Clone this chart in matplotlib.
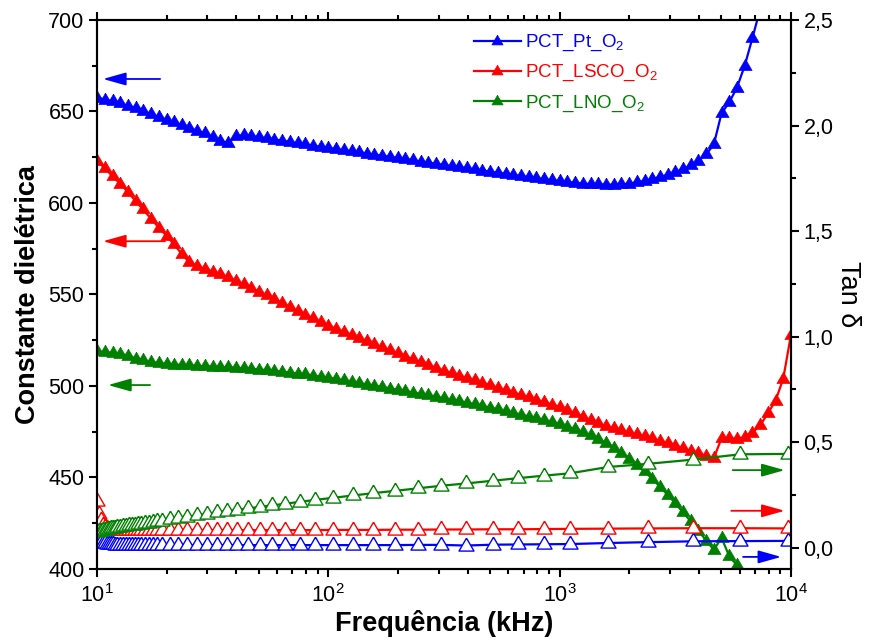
import matplotlib
matplotlib.use('Agg')
import matplotlib.pyplot as plt
from matplotlib.ticker import LogLocator, MultipleLocator, FuncFormatter, NullFormatter, LogFormatterSciNotation

plt.rcParams['font.family'] = ['Liberation Sans', 'DejaVu Sans']
plt.rcParams['mathtext.fontset'] = 'custom'
plt.rcParams['mathtext.rm'] = 'Liberation Sans'
plt.rcParams['mathtext.it'] = 'Liberation Sans:italic'
plt.rcParams['mathtext.bf'] = 'Liberation Sans:bold'

# ---------------- data ----------------
# frequency grid (kHz) of the dielectric-constant curves: mantissas x decades
mantissa = [1.00, 1.08, 1.17, 1.26, 1.36, 1.47, 1.58, 1.71, 1.85, 2.00,
            2.15, 2.33, 2.51, 2.71, 2.93, 3.16, 3.41, 3.69, 3.98, 4.30,
            4.64, 5.01, 5.41, 5.84, 6.31, 6.81, 7.36, 7.94, 8.58, 9.26]
decades = [10, 100, 1000]
freq = [m * d for d in decades for m in mantissa] + [10000]

eps_pt = [657.5, 656.5, 655.5, 654.5, 653, 652, 650.5, 648.5, 647, 645.5,
          644, 642.5, 641, 639.5, 638, 636, 634, 632.5, 636.5, 637,
          636.5, 636, 635.3, 634.6, 634, 633.3, 632.6, 632, 631.3, 630.6,
          630, 629.4, 628.8, 628.2, 627.6, 627, 626.4, 625.8, 625.2, 624.5,
          623.9, 623.3, 622.6, 622, 621.3, 620.7, 620.1, 619.5, 618.9, 618.3,
          617.7, 617.1, 616.5, 615.9, 615.3, 614.7, 614.1, 613.5, 613, 612.4,
          611.9, 611.4, 611, 610.6, 610.3, 610.1, 610, 610, 610.2, 610.6,
          611.2, 612, 613, 614.1, 615.4, 616.8, 618.5, 620.5, 623, 626.5,
          632, 649, 655, 663, 675, 690, 706, 725]

eps_lsco = [623, 619, 614.5, 610.5, 606, 601, 596.5, 591.5, 586.5, 582,
            577.5, 572, 567.5, 565.5, 564, 562.5, 561, 559.5, 557.5, 555.5,
            553.5, 551.5, 549.5, 547.5, 545.5, 543, 541, 539, 537, 535,
            533, 531.3, 529.6, 527.9, 526.2, 524.5, 522.8, 521.1, 519.4, 517.8,
            516.1, 514.5, 512.9, 511.3, 509.8, 508.4, 507, 505.6, 504.3, 503,
            501.6, 500.3, 499, 497.7, 496.3, 495, 493.7, 492.4, 491.1, 489.8,
            488.5, 486.8, 485, 483.2, 481.3, 479.5, 478, 476.8, 475.7, 474.6,
            473.5, 472.5, 471.3, 470, 468.7, 467.4, 466, 464.6, 463.2, 461.8,
            460.5, 471.5, 471.5, 471, 472, 474.5, 478.5, 485, 492, 504, 528]

eps_lno = [519, 518.5, 518, 517.5, 516.5, 515, 514, 513, 512.5, 512,
           511.7, 511.5, 511.3, 511, 510.8, 510.6, 510.4, 510.2, 510, 509.7,
           509.4, 509, 508.7, 508.3, 507.8, 507.3, 506.8, 506.3, 505.7, 505.1,
           504.5, 503.8, 503, 502.3, 501.5, 500.8, 500.1, 499.4, 498.6, 497.9,
           497.1, 496.4, 495.6, 494.8, 494, 493.2, 492.4, 491.6, 490.8, 489.9,
           489, 488.1, 487.2, 486.2, 485.3, 484.3, 483.3, 482.3, 481.3, 480.2,
           479, 477.7, 476.3, 474.8, 473, 471, 468.7, 466.2, 463.4, 460.3,
           456.9, 453.3, 449.3, 445, 440.5, 436, 431, 426, 421, 415.5,
           410.5, 417, 407, 402, 396, 390]

# frequencies (kHz) of the loss-tangent curves
freq_tan = [10.0, 10.2, 10.41, 10.62, 10.83, 11.05, 11.27, 11.5, 11.73, 11.96,
            12.2, 12.57, 12.95, 13.35, 13.75, 14.17, 14.6, 15.04, 15.5, 16.13,
            16.78, 17.46, 18.17, 19.1, 20.69, 22.4, 24.49, 27.06, 29.9, 33.03,
            36.48, 40.3, 44.97, 50.67, 57.09, 65.0, 75.46, 87.6, 104.8, 127.9,
            156.1, 194.3, 244.3, 307.1, 393.8, 515.3, 661.1, 856.1, 1109, 1619,
            2412, 3775, 6026, 9716]

tan_pt = [0.035, 0.030, 0.026, 0.023, 0.021, 0.019, 0.018, 0.017, 0.016, 0.015,
          0.015, 0.014, 0.014, 0.013, 0.013, 0.013, 0.013, 0.013, 0.013, 0.013,
          0.013, 0.013, 0.013, 0.013, 0.013, 0.013, 0.013, 0.013, 0.013, 0.013,
          0.013, 0.013, 0.013, 0.013, 0.013, 0.013, 0.013, 0.013, 0.013, 0.013,
          0.013, 0.013, 0.014, 0.014, 0.011, 0.015, 0.016, 0.017, 0.018, 0.023,
          0.027, 0.031, 0.032, 0.033]

tan_lsco = [0.22, 0.16, 0.13, 0.11, 0.100, 0.094, 0.090, 0.088, 0.086, 0.085,
            0.085, 0.084, 0.084, 0.084, 0.084, 0.084, 0.084, 0.084, 0.084, 0.084,
            0.084, 0.084, 0.084, 0.084, 0.084, 0.084, 0.084, 0.084, 0.084, 0.084,
            0.084, 0.084, 0.084, 0.084, 0.084, 0.084, 0.084, 0.084, 0.085, 0.085,
            0.085, 0.086, 0.086, 0.087, 0.087, 0.088, 0.088, 0.089, 0.090, 0.091,
            0.092, 0.093, 0.093, 0.092]

tan_lno = [0.075, 0.078, 0.081, 0.084, 0.086, 0.088, 0.090, 0.092, 0.094, 0.096,
           0.098, 0.100, 0.102, 0.104, 0.106, 0.108, 0.110, 0.112, 0.114, 0.117,
           0.120, 0.123, 0.126, 0.129, 0.135, 0.140, 0.147, 0.154, 0.161, 0.168,
           0.174, 0.180, 0.187, 0.194, 0.201, 0.209, 0.218, 0.227, 0.237, 0.248,
           0.259, 0.270, 0.282, 0.294, 0.305, 0.318, 0.330, 0.342, 0.353, 0.383,
           0.398, 0.418, 0.443, 0.445]

labels = ['PCT_Pt_O$_2$', 'PCT_LSCO_O$_2$', 'PCT_LNO_O$_2$']
colors = ['#0000ff', '#ff0000', '#008000']

# ---------------- figure ----------------
fig = plt.figure(figsize=(8.69, 6.44), dpi=100)
ax = fig.add_axes([0.1116, 0.1165, 0.7986, 0.8525])
ax2 = ax.twinx()

tri = [(0, 1), (-0.9, -0.55), (0.9, -0.55), (0, 1)]

for y, c, lab in zip([eps_pt, eps_lsco, eps_lno], colors, labels):
    ax.plot(freq[:len(y)], y, color=c, lw=1.6, marker=tri, ms=10.5,
            mfc=c, mec=c, mew=0.5, label=lab, clip_on=True)

for y, c in zip([tan_pt, tan_lsco, tan_lno], colors):
    ax2.plot(freq_tan, y, color=c, lw=1.6, marker=tri, ms=12.0,
             mfc='white', mec=c, mew=1.0, clip_on=True)

ax.set_xscale('log')
ax.set_xlim(10, 10000)
ax.set_ylim(400, 700)
ax2.set_ylim(-0.1, 2.5)

ax.yaxis.set_major_locator(MultipleLocator(50))
ax.yaxis.set_minor_locator(MultipleLocator(25))
ax2.yaxis.set_major_locator(MultipleLocator(0.5))
ax2.yaxis.set_minor_locator(MultipleLocator(0.25))
ax2.yaxis.set_major_formatter(FuncFormatter(lambda v, p: ('%.1f' % v).replace('.', ',')))
ax.xaxis.set_major_locator(LogLocator(base=10, numticks=10))
ax.xaxis.set_minor_locator(LogLocator(base=10, subs=range(2, 10), numticks=20))
ax.xaxis.set_minor_formatter(NullFormatter())
ax.xaxis.set_major_formatter(LogFormatterSciNotation())

for a in (ax, ax2):
    for s in a.spines.values():
        s.set_linewidth(1.5)
ax.tick_params(axis='both', which='major', direction='out', length=6, width=1.5,
               labelsize=15.5, pad=3)
ax.tick_params(axis='both', which='minor', direction='out', length=3.5, width=1.5)
ax.tick_params(axis='x', which='both', top=True)
ax.tick_params(axis='x', which='major', pad=5)
ax2.tick_params(axis='y', which='major', direction='out', length=6, width=1.5,
                labelsize=15.5, pad=3)
ax2.tick_params(axis='y', which='minor', direction='out', length=3.5, width=1.5)

ax.set_xlabel('Frequência (kHz)', fontsize=19.5, fontweight='bold', labelpad=2)
ax.set_ylabel('Constante dielétrica', fontsize=19.5, fontweight='bold', labelpad=5)
ax2.set_ylabel('Tan δ', fontsize=19.5, rotation=270, labelpad=20)

leg = ax.legend(loc='upper left', bbox_to_anchor=(0.532, 0.99), frameon=False,
                fontsize=13.5, handlelength=2.5, handletextpad=0.25,
                labelspacing=0.52, borderaxespad=0, labelcolor='linecolor',
                markerscale=0.85)

def arrow(x0, x1, yv, c):
    ax.annotate('', xy=(x1, yv), xytext=(x0, yv), xycoords='axes fraction',
                textcoords='axes fraction',
                arrowprops=dict(arrowstyle='-|>,head_length=1.0,head_width=0.28',
                                color=c, lw=1.3, mutation_scale=14,
                                shrinkA=0, shrinkB=0))

arrow(0.091, 0.0086, 0.8925, colors[0])
arrow(0.098, 0.0086, 0.597, colors[1])
arrow(0.0765, 0.0159, 0.335, colors[2])
arrow(0.916, 0.991, 0.180, colors[2])
arrow(0.914, 0.991, 0.106, colors[1])
arrow(0.931, 0.986, 0.022, colors[0])

fig.savefig('out.png', dpi=100)
